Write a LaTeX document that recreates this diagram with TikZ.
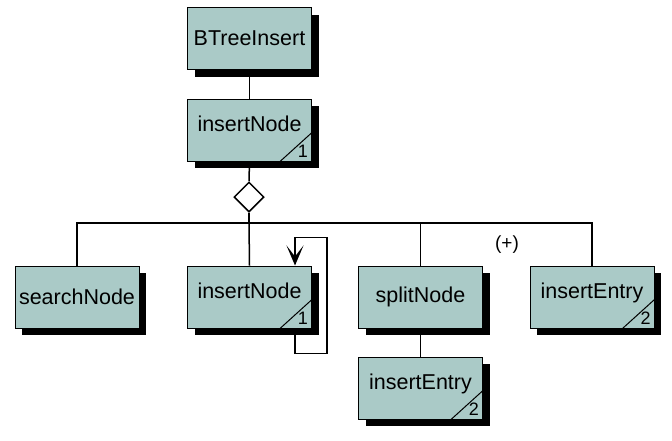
\documentclass[tikz,border=0pt]{standalone}
\usepackage{fontspec}
\setmainfont{Liberation Sans}
\usetikzlibrary{shadows,arrows.meta,shapes.geometric}
\definecolor{boxfill}{RGB}{170,202,199}
\tikzset{
  box/.style={draw=black, line width=1pt, fill=boxfill, minimum width=124pt, minimum height=62pt,
    inner sep=0pt, font=\fontsize{21.5}{25}\selectfont,
    drop shadow={fill=black, opacity=1, shadow xshift=7pt, shadow yshift=-7pt}},
  numbox/.style={box, text depth=12pt, text height=15pt},
  conn/.style={line width=1.5pt, draw=black},
  diam/.style={diamond, draw=black, line width=1.5pt, fill=white, minimum width=30pt, minimum height=30pt, inner sep=0pt},
  corner/.style={line width=1pt},
  cnum/.style={font=\fontsize{18}{20}\selectfont, inner sep=0pt},
  plus/.style={font=\fontsize{19}{22}\selectfont, inner sep=0pt},
  looptip/.style={-{Stealth[length=20pt,width=17pt,inset=11pt]}}
}
\newcommand{\cornermark}[2]{%
  \draw[corner] ([xshift=-32pt]#1.south east) -- ([yshift=29pt]#1.south east);
  \node[cnum] (#1num) at ([xshift=-9pt,yshift=10pt]#1.south east) {#2};}
\begin{document}
\begin{tikzpicture}[x=1pt,y=-1pt]
\useasboundingbox (0,0) rectangle (672,440);
\node[box] (bti) at (249.5,38.5) {BTreeInsert};
\node[numbox] (ins1) at (249.5,130) {insertNode};
\node[diam] (dm) at (249,197) {};
\node[box] (srch) at (77,297) {searchNode};
\node[numbox] (ins2) at (249.5,297) {insertNode};
\node[box] (split) at (420.5,297) {splitNode};
\node[numbox] (ent1) at (592,297) {insertEntry};
\node[numbox] (ent2) at (420.5,388) {insertEntry};
\node[plus] (pl) at (507,245) {(+)};
\coordinate (bar) at (249,223);
\cornermark{ins1}{1}
\cornermark{ins2}{1}
\cornermark{ent1}{2}
\cornermark{ent2}{2}
\draw[conn] (bti.south) -- (ins1.north);
\draw[conn] (ins1.south) -- (dm.north);
\draw[conn] (dm.south) -- (bar);
\draw[conn] (srch.north) |- (bar) -| (ent1.north);
\draw[conn] (bar) -- (ins2.north);
\draw[conn] (bar -| split.north) -- (split.north);
\draw[conn] (split.south) -- (ent2.north);
\draw[conn, looptip]
  ([xshift=-17pt]ins2.south east) -- ++(0,25) -| ++(32,-116) -| ([xshift=-17pt]ins2.north east);
\end{tikzpicture}
\end{document}
